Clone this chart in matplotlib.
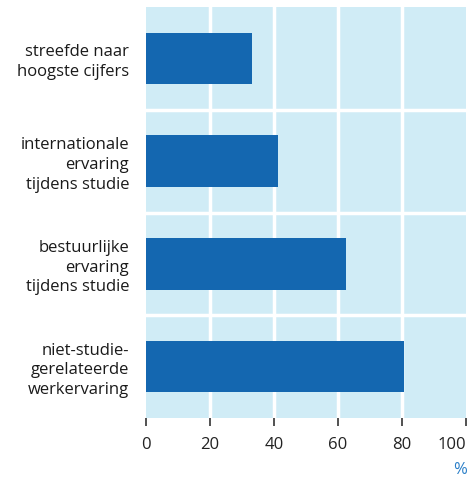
import numpy as np
import matplotlib.pyplot as plt

# data
categories = ["streefde naar\nhoogste cijfers",
              "internationale\nervaring\ntijdens studie",
              "bestuurlijke\nervaring\ntijdens studie",
              "niet-studie-\ngerelateerde\nwerkervaring"]
values = [33.2, 41.4, 62.4, 80.6]
xticks = [0, 20, 40, 60, 80, 100]

plt.rcParams['font.family'] = ['Open Sans', 'DejaVu Sans']

fig = plt.figure(figsize=(4.72, 4.78), dpi=100)
ax = fig.add_axes([146/472, 1-418/478, 320/472, 411/478])
ax.set_facecolor('#D0ECF6')

y = np.arange(len(categories))
ax.barh(y, values, height=0.5, color='#1467B0', zorder=3)

ax.set_xlim(0, 100)
ax.set_ylim(len(categories)-0.5, -0.5)

for xv in xticks[1:-1]:
    ax.axvline(xv, color='white', lw=2.5, zorder=1)
for yv in np.arange(0.5, len(categories)-0.5, 1):
    ax.axhline(yv, color='white', lw=2.5, zorder=1)

for s in ax.spines.values():
    s.set_visible(False)

ax.set_xticks(xticks)
ax.set_xticklabels([str(t) for t in xticks], fontsize=12, color='#222222')
ax.tick_params(axis='x', direction='out', length=6, width=1.2, color='#333333', pad=8)
ax.get_xticklabels()[-1].set_ha('right')
ax.set_yticks(y)
ax.set_yticklabels(categories, fontsize=12, color='#1a1a1a', linespacing=1.3)
ax.tick_params(axis='y', length=0, pad=12)

fig.text(467/472, 1-470/478, '%', color='#2a7fc8', fontsize=12, ha='right', va='center')

fig.savefig('out.png', dpi=100)
